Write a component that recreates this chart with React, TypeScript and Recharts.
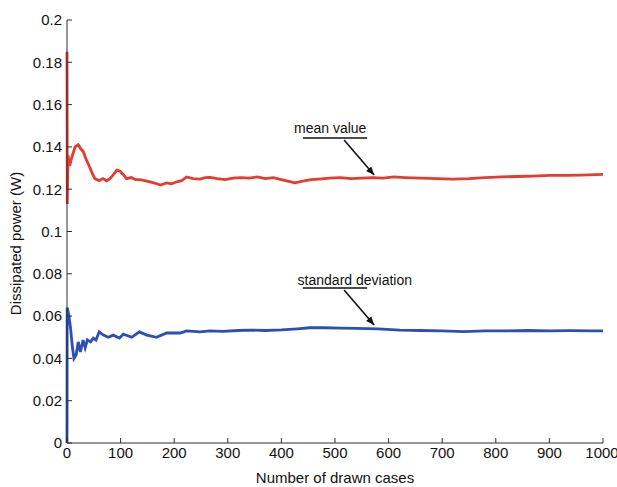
import { LineChart, Line, XAxis, YAxis, ReferenceLine, ReferenceDot } from "recharts";

// running mean of the dissipated power (W)
const meanX = [0, 0.5, 2, 5, 9, 15, 21, 26, 30, 36, 43, 48, 52, 60, 67, 74, 80, 87, 93, 99, 105, 111, 120, 128, 136, 145, 155, 165, 174, 186, 195, 205, 214, 223, 235, 248, 258, 267, 280, 295, 310, 325, 340, 355, 370, 385, 400, 412, 425, 440, 455, 470, 490, 510, 530, 550, 570, 590, 610, 630, 660, 690, 720, 750, 780, 810, 840, 870, 900, 930, 960, 1000];
const meanY = [0.185, 0.113, 0.136, 0.131, 0.135, 0.14, 0.141, 0.139, 0.138, 0.134, 0.13, 0.127, 0.125, 0.124, 0.125, 0.124, 0.125, 0.127, 0.129, 0.1285, 0.127, 0.125, 0.1255, 0.1245, 0.1245, 0.124, 0.1235, 0.1228, 0.122, 0.123, 0.1225, 0.1235, 0.124, 0.1258, 0.125, 0.1248, 0.1255, 0.1256, 0.125, 0.1245, 0.1252, 0.1255, 0.1252, 0.1258, 0.125, 0.1255, 0.1245, 0.1238, 0.123, 0.1238, 0.1245, 0.1248, 0.1252, 0.1255, 0.125, 0.1252, 0.1255, 0.1252, 0.1258, 0.1255, 0.1252, 0.125, 0.1248, 0.125, 0.1255, 0.1258, 0.126, 0.1262, 0.1265, 0.1265, 0.1267, 0.127];

// running standard deviation (W)
const stdX = [0, 0.3, 2, 4, 7, 10, 13, 17, 21, 25, 30, 34, 38, 44, 49, 54, 60, 68, 77, 86, 98, 105, 121, 135, 149, 167, 186, 211, 223, 248, 267, 290, 320, 341, 370, 400, 430, 453, 480, 510, 540, 580, 621, 660, 700, 740, 780, 820, 860, 900, 940, 980, 1000];
const stdY = [0, 0.064, 0.062, 0.0596, 0.0534, 0.0455, 0.04, 0.0416, 0.0478, 0.043, 0.0487, 0.045, 0.0487, 0.0478, 0.0496, 0.0487, 0.0525, 0.051, 0.05, 0.051, 0.0496, 0.0515, 0.05, 0.0525, 0.051, 0.05, 0.052, 0.052, 0.053, 0.0525, 0.053, 0.0528, 0.0532, 0.0534, 0.0532, 0.0535, 0.054, 0.0545, 0.0545, 0.0543, 0.0542, 0.054, 0.0534, 0.0532, 0.053, 0.0527, 0.053, 0.053, 0.0532, 0.053, 0.0531, 0.053, 0.053];

const xTicks = [0, 100, 200, 300, 400, 500, 600, 700, 800, 900, 1000];
const yTicks = [0, 0.02, 0.04, 0.06, 0.08, 0.1, 0.12, 0.14, 0.16, 0.18, 0.2];

const meanData = meanX.map((x, i) => ({ x, v: meanY[i] }));
const stdData = stdX.map((x, i) => ({ x, v: stdY[i] }));

// annotation anchors, in data units
const meanNote = { text: "mean value", x: 491, y: 0.1489, ux1: 440, ux2: 560, uy: 0.1442, ax1: 517, ay1: 0.1433, ax2: 573, ay2: 0.1267 };
const stdNote = { text: "standard deviation", x: 537, y: 0.0771, ux1: 440, ux2: 560, uy: 0.0733, ax1: 517, ay1: 0.0723, ax2: 573, ay2: 0.0558 };

const FONT = "'Liberation Sans', Arial, sans-serif";
const INK = "#111";
const AXIS = "#2b2f33";

const Arrow = (p: any) => {
  const { x1, y1, x2, y2 } = p;
  const ang = Math.atan2(y2 - y1, x2 - x1);
  const len = 9;
  const w = 0.4;
  const ax = x2 - len * Math.cos(ang - w);
  const ay = y2 - len * Math.sin(ang - w);
  const bx = x2 - len * Math.cos(ang + w);
  const by = y2 - len * Math.sin(ang + w);
  return (
    <g>
      <line x1={x1} y1={y1} x2={x2} y2={y2} stroke="#111" strokeWidth={1.6} />
      <path d={`M${x2},${y2}L${ax},${ay}L${bx},${by}Z`} fill="#111" />
    </g>
  );
};

const noteText = (text: string) => (p: any) => (
  <text x={p.cx} y={p.cy} textAnchor="middle" dominantBaseline="central" fontFamily={FONT} fontSize={14} fill={INK}>
    {text}
  </text>
);

const emptyTick = () => <g />;

export default function App() {
  const notes = [meanNote, stdNote];
  return (
    <div style={{ position: "absolute", left: 0, top: 0, background: "#fff" }}>
      <LineChart width={617} height={487} margin={{ top: 20, right: 14, bottom: 14, left: 7 }}>
        <XAxis
          dataKey="x"
          type="number"
          domain={[0, 1000]}
          ticks={xTicks}
          tickSize={-5}
          tickMargin={9}
          height={30}
          stroke={AXIS}
          tick={{ fill: INK, fontSize: 15, fontFamily: FONT }}
          label={{
            content: (props: any) => {
              const vb = props.viewBox;
              return (
                <text x={vb.x + vb.width / 2} y={vb.y + vb.height + 10} textAnchor="middle" fontFamily={FONT} fontSize={15} fill={INK}>
                  Number of drawn cases
                </text>
              );
            },
          }}
        />
        <XAxis xAxisId="top" orientation="top" type="number" domain={[0, 1000]} ticks={xTicks} tickSize={-5} height={0} stroke={AXIS} tick={emptyTick} />
        <YAxis
          type="number"
          domain={[0, 0.2]}
          ticks={yTicks}
          tickSize={-5}
          tickMargin={10}
          width={60}
          stroke={AXIS}
          tick={{ fill: INK, fontSize: 15, fontFamily: FONT }}
          label={{
            content: (props: any) => {
              const vb = props.viewBox;
              const cx = 15;
              const cy = vb.y + vb.height / 2 + 12;
              return (
                <text x={cx} y={cy} transform={`rotate(-90 ${cx} ${cy})`} textAnchor="middle" dominantBaseline="central" fontFamily={FONT} fontSize={15} fill={INK}>
                  Dissipated power (W)
                </text>
              );
            },
          }}
        />
        <YAxis yAxisId="right" orientation="right" type="number" domain={[0, 0.2]} ticks={yTicks} tickSize={-5} width={0} stroke={AXIS} tick={emptyTick} />
        <Line data={meanData} dataKey="v" type="linear" stroke="#e63b2e" strokeWidth={2.8} dot={false} isAnimationActive={false} />
        <Line data={stdData} dataKey="v" type="linear" stroke="#2b4fb4" strokeWidth={2.8} dot={false} isAnimationActive={false} />
        {notes.map((n) => (
          <ReferenceLine key={n.text + "u"} segment={[{ x: n.ux1, y: n.uy }, { x: n.ux2, y: n.uy }]} stroke="#111" strokeWidth={1.6} />
        ))}
        {notes.map((n) => (
          <ReferenceLine key={n.text + "a"} segment={[{ x: n.ax1, y: n.ay1 }, { x: n.ax2, y: n.ay2 }]} shape={Arrow} />
        ))}
        {notes.map((n) => (
          <ReferenceDot key={n.text} x={n.x} y={n.y} r={0} shape={noteText(n.text)} />
        ))}
      </LineChart>
    </div>
  );
}
